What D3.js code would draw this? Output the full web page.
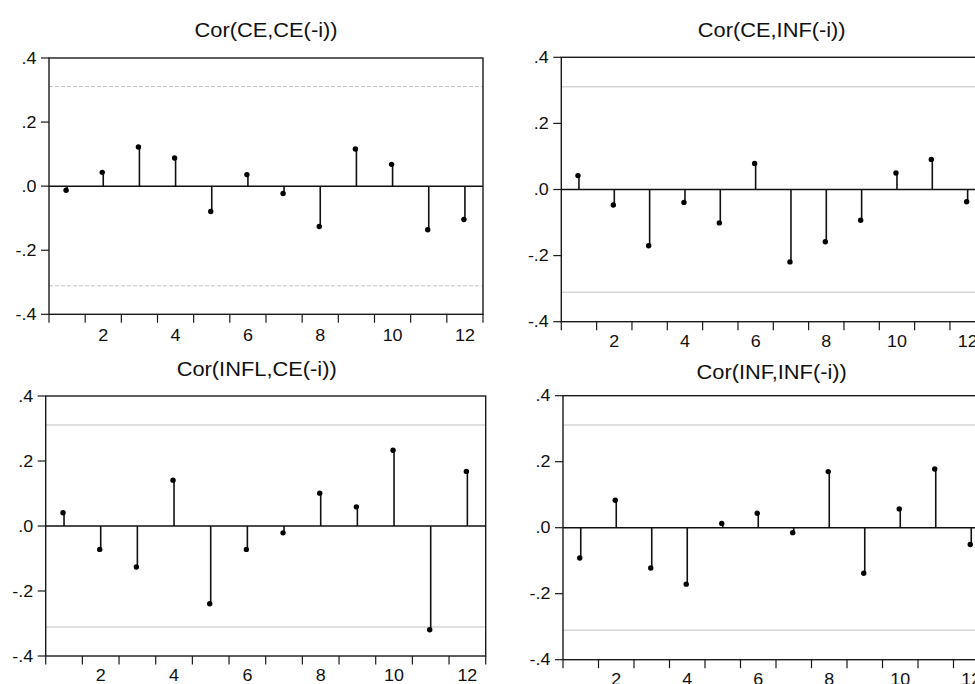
<!DOCTYPE html>
<html><head><meta charset="utf-8">
<script src="https://cdn.jsdelivr.net/npm/d3@7"></script>
<style>body{margin:0;background:#fff}svg{display:block}</style>
</head><body>
<svg id="c" width="975" height="684"></svg>
<script>
const lags = [1,2,3,4,5,6,7,8,9,10,11,12];
const titles = ["Cor(CE,CE(-i))","Cor(CE,INF(-i))","Cor(INFL,CE(-i))","Cor(INF,INF(-i))"];
const ceCe   = [-0.013,0.043,0.122,0.088,-0.079,0.036,-0.023,-0.126,0.116,0.068,-0.136,-0.104];
const ceInf  = [0.042,-0.047,-0.170,-0.039,-0.101,0.079,-0.219,-0.158,-0.093,0.050,0.091,-0.037];
const inflCe = [0.041,-0.072,-0.126,0.141,-0.239,-0.072,-0.021,0.101,0.059,0.233,-0.319,0.168];
const infInf = [-0.092,0.083,-0.122,-0.171,0.013,0.044,-0.015,0.170,-0.138,0.057,0.178,-0.051];
const series = [ceCe, ceInf, inflCe, infInf];
const confBand = 0.311;
const yTicks = [0.4,0.2,0,-0.2,-0.4];
const yTickLabels = [".4",".2",".0","-.2","-.4"];
const xTickLabels = [2,4,6,8,10,12];

const panels = [
  {l:49,   r:483,   t:58,    b:314.3, tx:266,   ty:36.5,  lo:26.5, dash:"4,2"},
  {l:561.3,r:985.3, t:57.3,  b:321.7, tx:771.7, ty:37.3,  lo:25,   dash:null},
  {l:45.7, r:485.7, t:396,   b:656,   tx:256.7, ty:375.7, lo:25,   dash:null},
  {l:563,  r:989,   t:395.7, b:659.7, tx:771.7, ty:379.3, lo:25,   dash:null}
];
const SX = 1.12;
const svg = d3.select("#c");
function txt(g, x, y, s, size, anchor){
  return g.append("text").attr("transform",`translate(${x},${y}) scale(${SX},1)`)
    .attr("font-family","'Liberation Sans', Arial, sans-serif").attr("font-size",size)
    .attr("text-anchor",anchor).attr("fill","#111").text(s);
}
panels.forEach((p,k)=>{
  const g = svg.append("g");
  const x = d3.scaleLinear().domain([0.5,12.5]).range([p.l,p.r]);
  const y = d3.scaleLinear().domain([-0.4,0.4]).range([p.b,p.t]);
  [confBand,-confBand].forEach(v=>{
    g.append("line").attr("x1",p.l).attr("x2",p.r).attr("y1",y(v)).attr("y2",y(v))
     .attr("stroke",k===0?"#c4c4c4":"#d6d6d6").attr("stroke-width",k===0?1:1.5)
     .attr("stroke-dasharray",p.dash);
  });
  g.append("rect").attr("x",p.l).attr("y",p.t).attr("width",p.r-p.l).attr("height",p.b-p.t)
   .attr("fill","none").attr("stroke","#1a1a1a").attr("stroke-width",1.4);
  yTicks.forEach((v,i)=>{
    g.append("line").attr("x1",p.l-8).attr("x2",p.l).attr("y1",y(v)).attr("y2",y(v))
     .attr("stroke","#1a1a1a").attr("stroke-width",1.2);
    txt(g,p.l-12.5,y(v)+5.6,yTickLabels[i],16,"end");
  });
  d3.range(0,13).forEach(i=>{
    const xx = x(i+0.5);
    g.append("line").attr("x1",xx).attr("x2",xx).attr("y1",p.b).attr("y2",p.b+8.5)
     .attr("stroke","#1a1a1a").attr("stroke-width",1.2);
  });
  xTickLabels.forEach(v=>{
    txt(g,x(v),p.b+p.lo,String(v),16,"middle");
  });
  g.append("line").attr("x1",p.l).attr("x2",p.r).attr("y1",y(0)).attr("y2",y(0))
   .attr("stroke","#111").attr("stroke-width",1.5);
  const vals = series[k];
  g.selectAll(".stem").data(lags).enter().append("line")
   .attr("x1",d=>x(d)).attr("x2",d=>x(d)).attr("y1",y(0)).attr("y2",(d,i)=>y(vals[i]))
   .attr("stroke","#111").attr("stroke-width",1.6);
  g.selectAll(".dot").data(lags).enter().append("circle")
   .attr("cx",d=>x(d)-1).attr("cy",(d,i)=>y(vals[i])).attr("r",2.7).attr("fill","#000");
  txt(g,p.tx,p.ty,titles[k],19.5,"middle");
});
</script>
</body></html>
